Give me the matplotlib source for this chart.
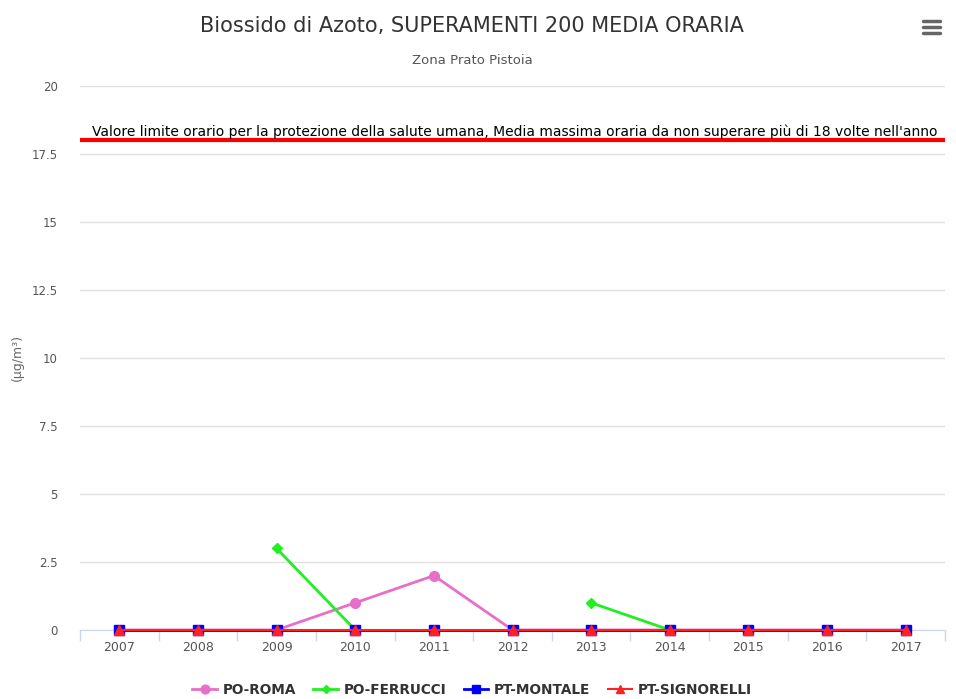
import matplotlib.pyplot as plt
from matplotlib.lines import Line2D
from matplotlib.transforms import blended_transform_factory
import numpy as np

years = ['2007', '2008', '2009', '2010', '2011', '2012', '2013', '2014', '2015', '2016', '2017']
po_roma = [0, 0, 0, 1, 2, 0, 0, 0, 0, 0, 0]
po_ferrucci = [None, None, 3, 0, None, None, 1, 0, None, None, None]
pt_montale = [0, 0, 0, 0, 0, 0, 0, 0, 0, 0, 0]
pt_signorelli = [0, 0, 0, 0, 0, 0, 0, 0, 0, 0, 0]
limit = 18
limit_label = ("Valore limite orario per la protezione della salute umana, Media massima oraria "
               "da non superare più di 18 volte nell'anno")

def arr(v):
    return np.array([np.nan if x is None else x for x in v], dtype=float)

fig = plt.figure(figsize=(9.56, 6.99), dpi=100)
ax = fig.add_axes([80 / 956, 1 - 630 / 699, 865 / 956, 544 / 699])
x = np.arange(len(years))

ax.plot(x, arr(po_roma), color='#e86fc9', lw=2, marker='o', ms=7, label='PO-ROMA', zorder=3, clip_on=False)
ax.plot(x, arr(po_ferrucci), color='#22ee22', lw=2, marker='D', ms=5, label='PO-FERRUCCI', zorder=4, clip_on=False)
ax.plot(x, arr(pt_montale), color='#0000ff', lw=2, marker='s', ms=6.5, label='PT-MONTALE', zorder=5, clip_on=False)
ax.plot(x, arr(pt_signorelli), color='#ff2222', lw=1.5, marker='^', ms=6.5, label='PT-SIGNORELLI', zorder=6, clip_on=False)

ax.axhline(limit, color='#ff0000', lw=3, zorder=2)
ax.text(92 / 956, limit + 0.05, limit_label, transform=blended_transform_factory(fig.transFigure, ax.transData),
        fontsize=10, color='black', va='bottom', ha='left', clip_on=False)

ax.set_xlim(-0.5, len(years) - 0.5)
ax.set_ylim(0, 20)
ax.set_yticks(np.arange(0, 20.1, 2.5))
ax.set_yticklabels(['0', '2.5', '5', '7.5', '10', '12.5', '15', '17.5', '20'])
ax.set_xticks(x)
ax.set_xticklabels(years)
ax.set_xticks(np.arange(-0.5, len(years), 1), minor=True)
ax.tick_params(axis='x', which='major', length=0, pad=8, labelsize=9, labelcolor='#555555')
ax.tick_params(axis='x', which='minor', length=8, color='#ccd6eb', width=1)
ax.tick_params(axis='y', length=0, pad=16, labelsize=8.5, labelcolor='#555555')
ax.grid(axis='y', color='#e0e0e0', lw=1)
ax.set_axisbelow(True)
for s in ['top', 'right', 'left']:
    ax.spines[s].set_visible(False)
ax.spines['bottom'].set_color('#ccd6eb')

fig.text(17 / 956, 1 - 358 / 699, '(µg/m³)', rotation=90, ha='center', va='center',
         fontsize=9, color='#666666')
fig.text(472 / 956, 1 - 26 / 699, 'Biossido di Azoto, SUPERAMENTI 200 MEDIA ORARIA',
         ha='center', va='center', fontsize=15, color='#333333')
fig.text(472 / 956, 1 - 60 / 699, 'Zona Prato Pistoia', ha='center', va='center',
         fontsize=9.5, color='#555555')

# menu icon
for yy in [21, 27, 33]:
    fig.add_artist(Line2D([923 / 956, 940 / 956], [1 - yy / 699] * 2, color='#666666', lw=2.5,
                          solid_capstyle='round', transform=fig.transFigure))

leg = fig.legend(loc='center', bbox_to_anchor=(472 / 956, 1 - 690 / 699), ncol=4, frameon=False,
                 prop={'weight': 'bold', 'size': 9.8}, handlelength=1.8, columnspacing=1.3,
                 handletextpad=0.4, markerscale=0.9)
for t in leg.get_texts():
    t.set_color('#333333')

fig.savefig('out.png', dpi=100)
